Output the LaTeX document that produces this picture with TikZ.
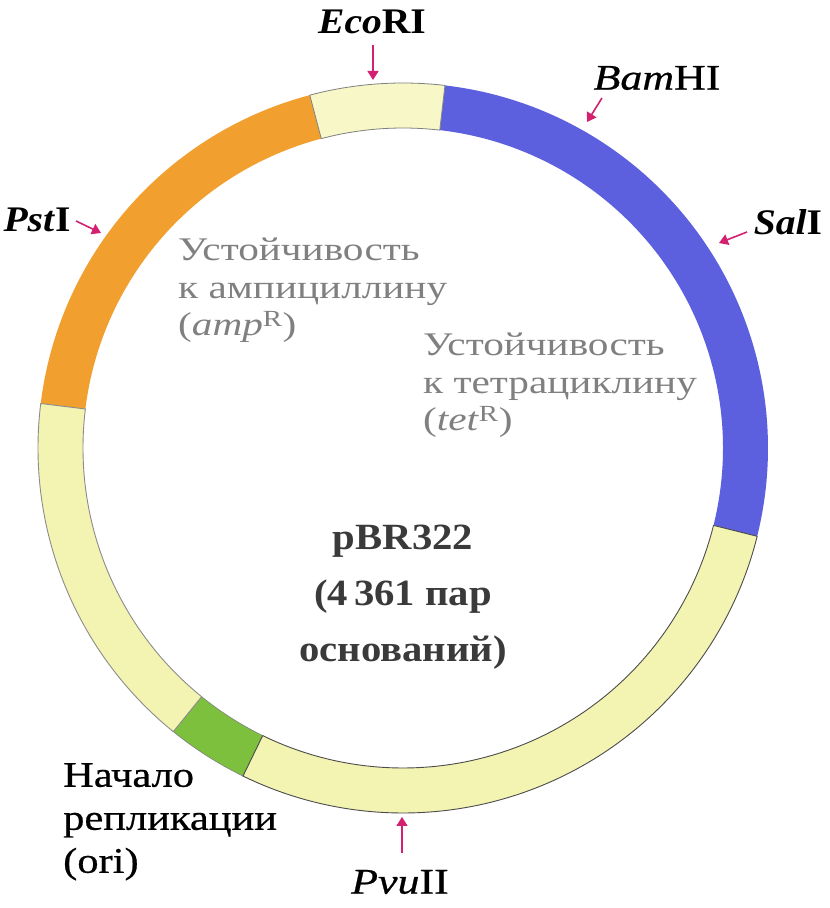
\documentclass[tikz,border=0pt]{standalone}
\usepackage{fontspec}
\setmainfont{Liberation Serif}
\newfontfamily\labfont[FakeStretch=1.1]{Liberation Serif}
\newfontfamily\widelabfont[FakeStretch=1.22,FakeBold=0.6]{Liberation Serif}
\newfontfamily\genefont[FakeStretch=1.25]{Liberation Serif}
\newfontfamily\orifont[FakeStretch=1.18,FakeBold=0.6]{Liberation Serif}
\newfontfamily\cenfont[FakeStretch=1.1]{Liberation Serif}
\usetikzlibrary{arrows.meta}
\definecolor{ringyellow}{RGB}{243,243,178}
\definecolor{ecoyellow}{RGB}{247,247,200}
\definecolor{ringorange}{RGB}{241,160,48}
\definecolor{ringblue}{RGB}{92,96,222}
\definecolor{ringgreen}{RGB}{125,192,62}
\definecolor{sitemag}{RGB}{212,32,112}
\definecolor{txtgray}{RGB}{128,128,128}
\definecolor{cengray}{RGB}{58,58,58}
\newcommand\ringsegment[3]{%
  \path[#3] (#1:365) arc[start angle=#1, end angle=#2, radius=365]
    -- (#2:320) arc[start angle=#2, end angle=#1, radius=320] -- cycle;}
\begin{document}
\begin{tikzpicture}[x=1pt,y=1pt,
  yseg/.style={fill=ringyellow, draw=black!70, line width=0.9pt},
  sitearrow/.style={draw=sitemag, line width=1.6pt, -{Triangle[length=9pt,width=11pt]}},
  sitelabel/.style={inner sep=0pt, font=\labfont\fontsize{36}{40}\selectfont},
  widelabel/.style={inner sep=0pt, font=\widelabfont\fontsize{36}{40}\selectfont},
  graytext/.style={inner sep=0pt, align=left, text=txtgray, anchor=north west,
    font=\genefont\fontsize{33}{37.5}\selectfont},
]
\fill[white] (0,0) rectangle (830,908);
\useasboundingbox (0,0) rectangle (830,908);

\begin{scope}[shift={(403,460)}]
  \ringsegment{83.4}{-14}{fill=ringblue}
  \ringsegment{-187}{-255.2}{fill=ringorange}
  \ringsegment{-116}{-129}{fill=ringgreen, draw=black!50, line width=0.6pt}
  \ringsegment{-14}{-116}{yseg}
  \ringsegment{-129}{-187}{yseg, draw=black!45}
  \ringsegment{104.8}{83.4}{fill=ecoyellow, draw=black!50, line width=0.8pt}
\end{scope}

% restriction sites
\coordinate (ecoTail) at (373,863);  \coordinate (ecoTip) at (373,828);
\coordinate (bamTail) at (602,810);  \coordinate (bamTip) at (587,786);
\coordinate (salTail) at (747,676);  \coordinate (salTip) at (719,665);
\coordinate (pstTail) at (76,687);   \coordinate (pstTip) at (101,675);
\coordinate (pvuTail) at (402,55);   \coordinate (pvuTip) at (402,91);
\draw[sitearrow] (ecoTail) -- (ecoTip);
\draw[sitearrow] (bamTail) -- (bamTip);
\draw[sitearrow] (salTail) -- (salTip);
\draw[sitearrow] (pstTail) -- (pstTip);
\draw[sitearrow] (pvuTail) -- (pvuTip);

\node[sitelabel] (eco) at (372,886) {\textbf{\textit{Eco}RI}};
\node[widelabel] (bam) at (657,830) {\textit{Bam}HI};
\node[sitelabel] (sal) at (788,686) {\textbf{\textit{Sal}I}};
\node[sitelabel] (pst) at (37,688) {\textbf{\textit{Pst}I}};
\node[widelabel] (pvu) at (400,26) {\textit{Pvu}II};

% gene texts
\node[graytext] (amp) at (178,670)
  {Устойчивость\\к ампициллину\\(\textit{amp}\textsuperscript{R})};
\node[graytext] (tet) at (423,575)
  {Устойчивость\\к тетрациклину\\(\textit{tet}\textsuperscript{R})};

% center
\node[inner sep=0pt, anchor=north, align=center, text=cengray,
  font=\cenfont\bfseries\fontsize{37}{56}\selectfont] (name) at (403,383)
  {pBR322\\(4\,361 пар\\оснований)};

% origin
\node[inner sep=0pt, anchor=north west, align=left,
  font=\orifont\fontsize{36}{43}\selectfont] (ori) at (63,145)
  {Начало\\репликации\\(ori)};
\end{tikzpicture}
\end{document}
